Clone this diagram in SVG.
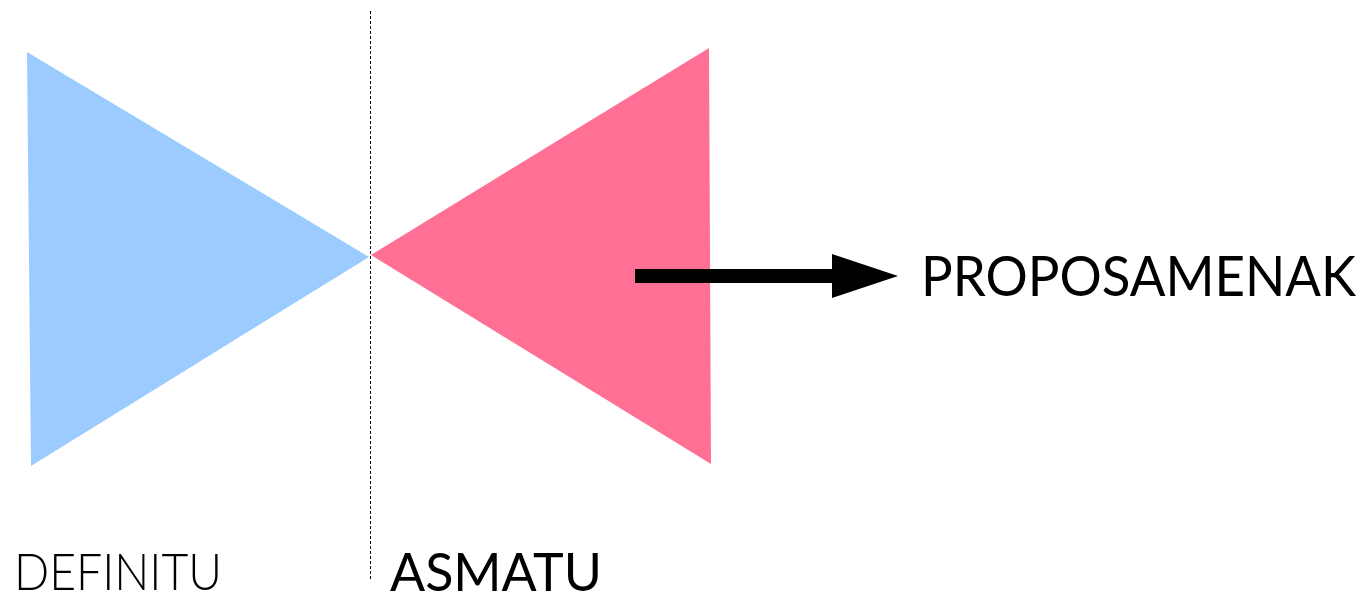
<svg xmlns="http://www.w3.org/2000/svg" width="1365" height="595" viewBox="0 0 1365 595">
  <style>
    .label { font-family: Lato, "Noto Sans", "Liberation Sans", sans-serif; fill: #000; }
  </style>
  <defs>
    <marker id="head" markerUnits="userSpaceOnUse" markerWidth="66" markerHeight="44" refX="0" refY="22" orient="auto">
      <polygon points="0,0 66,22 0,44" fill="#000"/>
    </marker>
  </defs>
  <rect width="1365" height="595" fill="#fff"/>

  <!-- divider -->
  <line x1="370.5" y1="11" x2="370.5" y2="580" stroke="#000" stroke-width="1" stroke-dasharray="3,2"/>

  <g id="definitu">
    <polygon points="27,52 31,466 369,257" fill="#9bcbff"/>
    <text class="label" x="14" y="590" font-size="52" font-weight="300" textLength="208" lengthAdjust="spacingAndGlyphs">DEFINITU</text>
  </g>

  <g id="asmatu">
    <polygon points="709,48 711,464 371,255" fill="#ff7094"/>
    <text class="label" x="390" y="591" font-size="53" font-weight="400" textLength="212" lengthAdjust="spacingAndGlyphs">ASMATU</text>
  </g>

  <g id="proposamenak">
    <text class="label" x="921" y="296" font-size="57" font-weight="400" textLength="435" lengthAdjust="spacingAndGlyphs">PROPOSAMENAK</text>
  </g>

  <g id="connectors">
    <line x1="635" y1="276" x2="832" y2="276" stroke="#000" stroke-width="14" marker-end="url(#head)"/>
  </g>
</svg>
